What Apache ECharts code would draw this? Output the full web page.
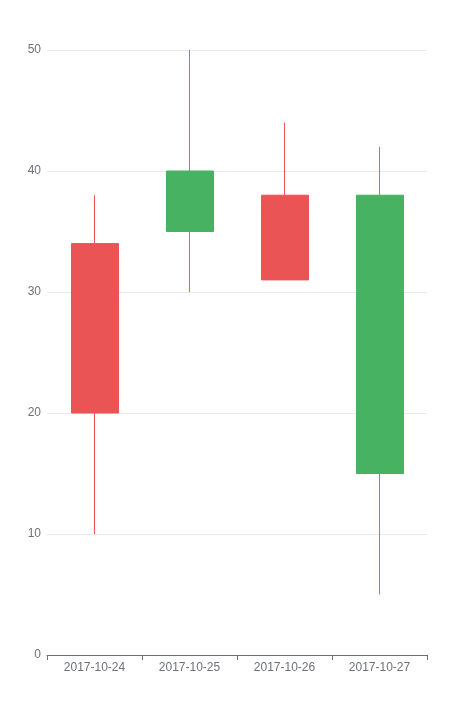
<!DOCTYPE html>
<html><head><meta charset="utf-8">
<script src="https://cdn.jsdelivr.net/npm/echarts@6/dist/echarts.min.js"></script>
<style>html,body{margin:0;padding:0;background:#fff}#c{width:474px;height:714px}</style>
</head><body><div id="c"></div>
<script>
var categories = ['2017-10-24', '2017-10-25', '2017-10-26', '2017-10-27'];
var opens = [20, 40, 31, 38];
var closes = [34, 35, 38, 15];
var lows = [10, 30, 33, 5];
var highs = [38, 50, 44, 42];
var data = categories.map(function (c, i) { return [opens[i], closes[i], lows[i], highs[i]]; });
var chart = echarts.init(document.getElementById('c'));
chart.setOption({
  animation: false,
  textStyle: { fontFamily: 'Liberation Sans, Arial, sans-serif' },
  grid: { left: 47, right: 47, top: 50, bottom: 59 },
  xAxis: {
    type: 'category', data: categories,
    axisLine: { lineStyle: { color: '#6E7079' } },
    axisTick: { show: true, length: 5, lineStyle: { color: '#6E7079' } },
    axisLabel: { color: '#6E7079', margin: 7, fontSize: 12 }
  },
  yAxis: {
    type: 'value', min: 0, max: 50, interval: 10,
    axisLabel: { color: '#6E7079', fontSize: 12, margin: 6 },
    splitLine: { lineStyle: { color: '#E6EAF0' } }
  },
  series: [{
    type: 'candlestick', data: data,
    itemStyle: { color: '#eb5454', color0: '#47b262', borderColor: '#eb5454', borderColor0: '#47b262', borderWidth: 1 }
  }]
});
</script></body></html>
